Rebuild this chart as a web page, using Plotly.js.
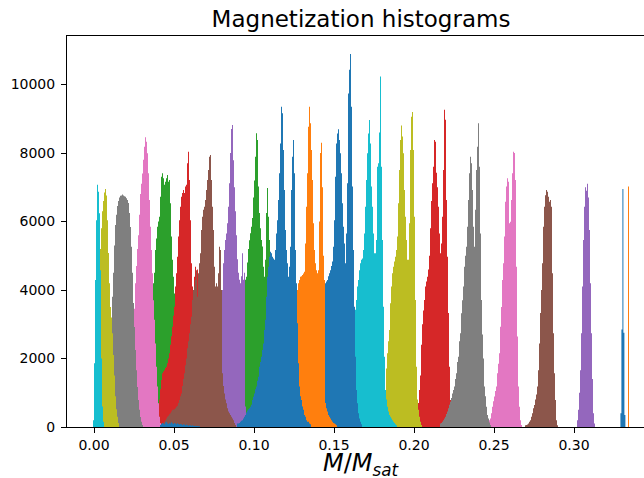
<!DOCTYPE html>
<html>
<head>
<meta charset="utf-8">
<script src="https://cdn.plot.ly/plotly-3.0.1.min.js"></script>
<style>html,body{margin:0;padding:0;background:#fff;}#chart{width:644px;height:478px;}</style>
</head>
<body>
<div id="chart"></div>
<script>
// Histogram bin width (in M/Msat units) and left edge of the first bin of each series
const binWidth = 0.000625;
const binStarts = [0.329, 0.33375, 0.09, 0.20125, 0.301875, 0.269375, 0.24625, 0.21625, 0.17875, 0.16,
                   0.14, 0.124375, 0.033125, 0.038125, 0.074375, 0.043125, 0.02125, 0.00875, 0.003125, -0.000625, 0.04125];

// Bin counts of each histogram (series order = matplotlib colour cycle order)
const s00 = [400, 2850, 6950, 2750, 350];
const s01 = [7020];
const s02 = [1000, 1500, 2000, 2500, 3000, 3500, 3900, 4300, 4390, 4800, 5200, 5450, 5660, 5850, 6100, 6700, 7200, 7890, 8580, 8380, 7020, 6250, 5800, 5460, 5270, 4680, 4390, 4880, 6250, 6980, 6140, 5460, 4800, 4000, 3300, 2600, 2000, 1500, 1000, 600, 300, 150];
const s03 = [150, 400, 700, 1080, 1500, 2400, 3000, 3400, 3710, 4100, 4250, 4390, 4600, 5000, 5800, 6600, 7120, 7600, 8380, 8330, 7420, 7000, 6430, 5650, 5070, 5360, 6140, 7500, 9260, 8970, 6630, 4970, 3330, 1760, 790, 300, 100];
const s04 = [200, 500, 1000, 1660, 2740, 4100, 5460, 6430, 7000, 6900, 7100, 6700, 5750, 4200, 2740, 1400, 400, 100];
const s05 = [50, 60, 70, 100, 150, 200, 300, 400, 550, 640, 800, 950, 1180, 1660, 2440, 3330, 4000, 4780, 5850, 6430, 6770, 6920, 6870, 6720, 6580, 6630, 6430, 4490, 2740, 1570, 790, 200, 50];
const s06 = [80, 200, 250, 400, 590, 750, 890, 1050, 1180, 1570, 1850, 2150, 2930, 3500, 4290, 4780, 5560, 6580, 7020, 7260, 7160, 5950, 5990, 6630, 7410, 8040, 8000, 7210, 4680, 2640, 1180, 590, 200, 60];
const s07 = [100, 120, 150, 200, 250, 300, 380, 450, 550, 650, 740, 850, 980, 1080, 1180, 1400, 1570, 1900, 2050, 2500, 2740, 3320, 3700, 4100, 4680, 5000, 5260, 5850, 6630, 7410, 7890, 7700, 6920, 5850, 5260, 6340, 7500, 8180, 8870, 7600, 5650, 3710, 2700, 2000, 1180, 900, 590, 350, 250, 130, 60];
const s08 = [100, 200, 300, 450, 700, 1000, 1710, 2150, 2500, 2830, 3610, 4100, 4490, 4680, 4830, 4970, 5170, 5560, 6530, 7500, 8380, 8800, 8480, 7990, 6920, 6140, 5460, 4880, 4880, 5950, 8090, 9060, 9200, 8090, 6140, 3710, 1760, 800, 500, 300, 150, 60];
const s09 = [600, 1000, 1500, 2200, 2800, 3420, 3710, 4100, 4290, 4580, 4780, 4880, 4920, 5170, 5650, 6430, 7210, 7990, 8570, 8960, 8280, 7020, 6430, 5650, 5070, 5070, 5460, 7600, 7700, 8600, 10230, 7600, 5460, 3510, 2050, 1080, 800, 590, 450, 350, 300, 250, 200, 150, 120, 80, 50];
const s10 = [400, 700, 1200, 1800, 2500, 3200, 3800, 4200, 4250, 4290, 4400, 4490, 4580, 4700, 4830, 5260, 6040, 7310, 8280, 8570, 8690, 8380, 7990, 7410, 6530, 5850, 5360, 4780, 5650, 7120, 9740, 10430, 10890, 9350, 7020, 5170, 3510, 2050, 1080, 690, 400, 250, 150, 80];
const s11 = [800, 1500, 2300, 3200, 4000, 4200, 4290, 4390, 4400, 4440, 4480, 4530, 5360, 6430, 7410, 8770, 9350, 8870, 8090, 7210, 5950, 5170, 4780, 4580, 4490, 4580, 6000, 8000, 8300, 7000, 5000, 4290, 700, 550, 450, 350, 300, 250, 200, 150, 120, 100, 80, 50];
const s12 = [250, 500, 900, 1500, 2200, 3000, 4200, 4500, 5170, 5500, 5850, 6000, 6140, 6720, 7310, 7410, 7260, 7070, 7160, 7260, 7360, 7160, 7210, 6530, 5560, 4880, 4390, 3900, 3510, 2800, 2000, 1300, 800, 400, 200];
const s13 = [80, 150, 300, 500, 800, 1100, 1370, 1570, 1620, 1660, 1720, 1760, 1860, 2000, 2150, 2400, 2650, 2930, 3250, 3510, 4100, 4490, 4970, 5560, 6040, 6430, 6720, 6830, 6920, 6830, 7020, 7070, 7700, 8040, 7210, 6040, 4780, 4100, 3800, 4390, 4680, 3500, 4600, 2500, 1500, 800, 400, 200];
const s14 = [200, 350, 550, 800, 1100, 1500, 2000, 2600, 3300, 4000, 4780, 5170, 5460, 5650, 5950, 6430, 7120, 8000, 8700, 8820, 7790, 7000, 6300, 5600, 4900, 4500, 4300, 4200, 4400, 5070, 4300, 4500, 600, 400, 250, 120];
const s15 = [100, 150, 200, 250, 300, 330, 370, 400, 450, 500, 500, 520, 550, 590, 620, 700, 790, 900, 980, 1200, 1400, 1570, 1800, 2000, 2300, 2500, 2740, 3000, 3220, 3710, 4000, 4100, 4290, 4580, 3800, 4490, 4780, 5070, 5750, 6140, 6340, 6430, 6630, 6920, 7210, 7500, 7890, 7940, 7210, 6430, 5750, 4680, 4100, 4200, 4100, 4490, 5260, 5170, 4000, 1570, 1200, 980, 800, 690, 550, 450, 400, 350, 300, 250, 200, 120, 60];
const s16 = [250, 500, 900, 1400, 2000, 2600, 3450, 4200, 4700, 5200, 5600, 6200, 6800, 7100, 7400, 7800, 8180, 8460, 8330, 7990, 7410, 6630, 5850, 5170, 4490, 3700, 3130, 2440, 1760, 1180, 690, 300, 120];
const s17 = [1500, 2000, 2600, 3100, 3800, 4500, 5300, 5900, 6200, 6450, 6600, 6700, 6750, 6760, 6790, 6760, 6740, 6720, 6680, 6630, 6540, 6250, 5840, 5260, 4500, 3620, 2920, 2250, 1660, 1170, 790, 500, 290, 150, 60];
const s18 = [2500, 5200, 5800, 6300, 6600, 6850, 6950, 6760, 6040, 5080, 4200, 3500, 3200, 2740, 2100, 1500, 900, 520, 300, 120];
const s19 = [200, 1860, 4290, 6040, 7070, 6870, 6240, 4580, 2000, 600, 150];
const s20 = [60, 90, 120, 100, 80, 130, 150, 110, 90, 120, 100, 140, 110, 90, 120, 100, 80, 110, 90, 70,
             90, 80, 60, 80, 70, 50, 70, 60, 40, 60, 50, 40, 50, 40, 30, 40, 30, 30, 20, 20,
             0, 0, 0, 0, 0, 0, 0, 0, 0, 0, 0, 0, 0, 0, 0, 0, 0, 0, 0, 0, 0, 0, 0, 0, 0, 0, 0, 0, 0, 0, 0, 0, 0, 0, 0, 0, 0,
             100, 100, 120, 150, 180, 200, 250, 300, 350, 420, 480, 520, 550, 590, 650, 790, 880, 980, 1100, 1180,
             1350, 1470, 1760, 1900, 2050, 2250, 2440, 2830, 3130, 3800, 4390, 4680, 4970, 5120, 5070, 4970, 4920, 4880, 5170, 5650,
             6040, 6630, 7410, 8280, 9350, 9160, 8090, 6920, 5750, 5170, 4780, 4390, 4680, 5260, 6920, 7890, 8380, 7410, 5170, 4200,
             3030, 1860, 1180, 900, 790, 600, 500, 350, 300, 200, 150, 150, 100, 80];

const xTickVals = [0, 0.05, 0.10, 0.15, 0.20, 0.25, 0.30];
const xTickText = ['0.00', '0.05', '0.10', '0.15', '0.20', '0.25', '0.30'];
const yTickVals = [0, 2000, 4000, 6000, 8000, 10000];
const yTickText = ['0', '2000', '4000', '6000', '8000', '10000'];

const tab10 = ['#1f77b4', '#ff7f0e', '#2ca02c', '#d62728', '#9467bd', '#8c564b', '#e377c2', '#7f7f7f', '#bcbd22', '#17becf'];
const allSeries = [s00, s01, s02, s03, s04, s05, s06, s07, s08, s09, s10, s11, s12, s13, s14, s15, s16, s17, s18, s19, s20];

// Each histogram drawn as a filled step outline (bin edges -> counts), like matplotlib's bar histogram
const traces = allSeries.map((counts, i) => {
  const edges = [];
  const ys = [];
  for (let k = 0; k <= counts.length; k++) {
    edges.push(binStarts[i] + k * binWidth);
    ys.push(counts[Math.min(k, counts.length - 1)]);
  }
  return {
    type: 'scatter',
    mode: 'none',
    x: edges,
    y: ys,
    line: { shape: 'hv', width: 0 },
    fill: 'tozeroy',
    fillcolor: tab10[i % 10],
    hoverinfo: 'skip',
    showlegend: false
  };
});

const font = 'DejaVu Sans, Verdana, sans-serif';
const W = 644, H = 478, L = 67, R = 0, T = 36, B = 51;

const layout = {
  width: W, height: H,
  margin: { l: L, r: R, t: T, b: B, pad: 0 },
  paper_bgcolor: '#ffffff', plot_bgcolor: '#ffffff',
  showlegend: false,
  title: {
    text: 'Magnetization histograms',
    font: { family: font, size: 23, color: '#000000' },
    xref: 'container', x: 361 / W, xanchor: 'center',
    yref: 'container', y: 1 - 19 / H, yanchor: 'middle'
  },
  xaxis: {
    range: [-0.016875, 0.34375],
    tickvals: xTickVals, ticktext: xTickText,
    ticks: 'outside', ticklen: 5, tickwidth: 1, tickcolor: '#000',
    showline: true, linecolor: '#000', linewidth: 1, mirror: true,
    showgrid: false, zeroline: false,
    tickfont: { family: font, size: 14, color: '#000' }
  },
  yaxis: {
    range: [0, 11416],
    tickvals: yTickVals, ticktext: yTickText,
    ticks: 'outside', ticklen: 5, tickwidth: 1, tickcolor: '#000',
    ticklabelstandoff: 3,
    showline: true, linecolor: '#000', linewidth: 1, mirror: false,
    showgrid: false, zeroline: false,
    tickfont: { family: font, size: 14, color: '#000' }
  },
  annotations: [{
    text: '<i>M</i>/<i>M</i><sub><i>sat</i></sub>',
    xref: 'paper', yref: 'paper',
    x: (361 - L) / (W - L - R), y: (427 - 465) / (H - T - B),
    xanchor: 'center', yanchor: 'middle',
    showarrow: false,
    font: { family: font, size: 24, color: '#000' }
  }]
};

Plotly.newPlot('chart', traces, layout, { staticPlot: true, displayModeBar: false });
</script>
</body>
</html>
